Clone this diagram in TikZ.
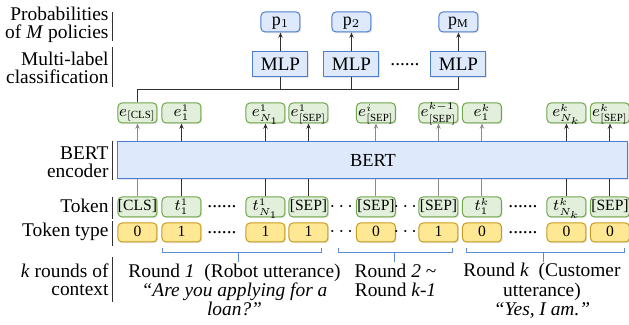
\documentclass[tikz,border=0pt]{standalone}
\usepackage{amsmath}
\usepackage{fontspec}
\setmainfont{Liberation Serif}
\usetikzlibrary{arrows.meta,shadows}

\definecolor{embfill}{HTML}{E2EFDA}
\definecolor{embdraw}{HTML}{6EA64A}
\definecolor{typfill}{HTML}{FFE894}
\definecolor{typdraw}{HTML}{C59C1E}
\definecolor{encfill}{HTML}{DEEAFC}
\definecolor{encdraw}{HTML}{4D7DD0}
\definecolor{grpdraw}{HTML}{5B8BD8}
\definecolor{lightline}{HTML}{8A8A8A}
\definecolor{darkline}{HTML}{303030}

\begin{document}
\begin{tikzpicture}[x=0.5pt, y=-0.5pt, line width=0.5pt,
        every node/.append style={inner sep=0pt},
        boxshadow/.style={drop shadow={shadow xshift=0.6pt, shadow yshift=-0.6pt, opacity=0.2}},
        tokbox/.style={draw=embdraw, fill=embfill, rounded corners=2pt, minimum width=19.5pt, minimum height=10pt,
            text height=5.6pt, text depth=1.6pt, font=\fontsize{7.8}{7.8}\selectfont, boxshadow},
        typbox/.style={tokbox, draw=typdraw, fill=typfill, minimum height=9.5pt},
        probbox/.style={tokbox, draw=encdraw, fill=encfill, font=\fontsize{9}{9}\selectfont},
        mlpbox/.style={draw=encdraw, fill=encfill, minimum width=27.5pt, minimum height=12.5pt,
            font=\fontsize{9.5}{9.5}\selectfont, boxshadow},
        lbl/.style={anchor=east, align=right, font=\fontsize{9.7}{9}\selectfont},
        txt/.style={align=center, font=\fontsize{9.7}{9.65}\selectfont},
        bar/.style={draw=darkline},
        grp/.style={draw=grpdraw},
        ptr/.style={-{Stealth[length=2.6pt, width=2.2pt]}}]
        \useasboundingbox (0,0) rectangle (629,325);

        % row labels on the left
        \node [lbl] (lprob) at (109,25) {Probabilities\\of \textit{M} policies};
        \node [lbl] (lmlp) at (109,67.5) {Multi-label\\classification};
        \node [lbl] (lbert) at (109,162.5) {BERT\\encoder};
        \node [lbl] (ltok) at (109,205.5) {Token};
        \node [lbl] (ltype) at (109,232.3) {Token type};
        \node [lbl] (lctx) at (109,280) {\textit{k} rounds of\\context};
        \draw [bar] (113,12) -- (113,41);
        \draw [bar] (113,47) -- (113,87);
        \draw [bar] (113,141) -- (113,180);
        \draw [bar] (113,197) -- (113,219);
        \draw [bar] (113,221) -- (113,246);
        \draw [bar] (113,257) -- (113,302);

        % policy heads
        \node [probbox] (p1) at (280.5,22) {$\mathrm{p}_1$};
        \node [probbox] (p2) at (351.5,22) {$\mathrm{p}_2$};
        \node [probbox] (pM) at (458.5,22) {$\mathrm{p}_\mathrm{M}$};
        \node [mlpbox] (mlp1) at (280.5,64.5) {MLP};
        \node [mlpbox] (mlp2) at (351.5,64.5) {MLP};
        \node [mlpbox] (mlpM) at (458.5,64.5) {MLP};
        \node [font=\fontsize{9.7}{9.7}\selectfont] (mdots) at (405,65) {......};

        % encoder
        \node [mlpbox, minimum width=255pt, minimum height=18.5pt, font=\fontsize{9.2}{9.2}\selectfont] (bert) at (373,160.5) {BERT};

        % output embeddings
        \node [tokbox] (ecls) at (137.5,113) {$e_{\mathrm{[CLS]}}$};
        \node [tokbox] (e1) at (181.5,113) {$e_1^1$};
        \node [tokbox] (en1) at (265.5,113) {$e_{N_1}^1$};
        \node [tokbox] (esep1) at (308.5,113) {$e_{\mathrm{[SEP]}}^1$};
        \node [tokbox] (esepi) at (376,113) {$e_{\mathrm{[SEP]}}^i$};
        \node [tokbox] (esepk1) at (438.5,113) {$e_{\mathrm{[SEP]}}^{k-1}$};
        \node [tokbox] (ek) at (482,113) {$e_1^k$};
        \node [tokbox] (enk) at (566.5,113) {$e_{N_k}^k$};
        \node [tokbox] (esepk) at (610,113) {$e_{\mathrm{[SEP]}}^k$};

        % input tokens
        \node [tokbox] (cls) at (137.5,207) {[CLS]};
        \node [tokbox] (t1) at (181.5,207) {$t_1^1$};
        \node [tokbox] (tn1) at (265.5,207) {$t_{N_1}^1$};
        \node [tokbox] (sep1) at (308.5,207) {[SEP]};
        \node [tokbox] (sepi) at (376,207) {[SEP]};
        \node [tokbox] (sepk1) at (438.5,207) {[SEP]};
        \node [tokbox] (tk) at (482,207) {$t_1^k$};
        \node [tokbox] (tnk) at (566.5,207) {$t_{N_k}^k$};
        \node [tokbox] (sepk) at (610,207) {[SEP]};
        \node [font=\fontsize{9.7}{9.7}\selectfont] (tdots1) at (222,207) {......};
        \node (tdots2) at (343,207) {$\cdots$};
        \node (tdots3) at (407,207) {$\cdots$};
        \node [font=\fontsize{9.7}{9.7}\selectfont] (tdots4) at (523,207) {......};

        % token types
        \node [typbox] (ycls) at (137.5,232.5) {0};
        \node [typbox] (y1) at (181.5,232.5) {1};
        \node [typbox] (yn1) at (265.5,232.5) {1};
        \node [typbox] (ysep1) at (308.5,232.5) {1};
        \node [typbox] (ysepi) at (376,232.5) {0};
        \node [typbox] (ysepk1) at (438.5,232.5) {1};
        \node [typbox] (yk) at (482,232.5) {0};
        \node [typbox] (ynk) at (566.5,232.5) {0};
        \node [typbox] (ysepk) at (610,232.5) {0};
        \node [font=\fontsize{9.7}{9.7}\selectfont] (ydots1) at (222,232.5) {......};
        \node (ydots2) at (343,232.5) {$\cdots$};
        \node (ydots3) at (407,232.5) {$\cdots$};
        \node [font=\fontsize{9.7}{9.7}\selectfont] (ydots4) at (523,232.5) {......};

        % tokens into BERT, embeddings out
        \draw [lightline] (cls) -- (cls |- bert.south);
        \draw [darkline] (t1) -- (t1 |- bert.south);
        \draw [darkline] (tn1) -- (tn1 |- bert.south);
        \draw [darkline] (sep1) -- (sep1 |- bert.south);
        \draw [lightline] (sepi) -- (sepi |- bert.south);
        \draw [lightline] (sepk1) -- (sepk1 |- bert.south);
        \draw [lightline] (tk) -- (tk |- bert.south);
        \draw [darkline] (tnk) -- (tnk |- bert.south);
        \draw [darkline] (sepk) -- (sepk |- bert.south);
        \draw [ptr, lightline] (ecls |- bert.north) -- (ecls);
        \draw [ptr, darkline] (e1 |- bert.north) -- (e1);
        \draw [ptr, darkline] (en1 |- bert.north) -- (en1);
        \draw [ptr, darkline] (esep1 |- bert.north) -- (esep1);
        \draw [ptr, lightline] (esepi |- bert.north) -- (esepi);
        \draw [ptr, lightline] (esepk1 |- bert.north) -- (esepk1);
        \draw [ptr, lightline] (ek |- bert.north) -- (ek);
        \draw [ptr, darkline] (enk |- bert.north) -- (enk);
        \draw [ptr, darkline] (esepk |- bert.north) -- (esepk);

        % [CLS] embedding to the classifiers
        \coordinate (bus) at (137.5,90);
        \draw [darkline] (ecls) -- (bus) -| (mlpM);
        \draw [darkline] (mlp1) -- (mlp1 |- bus);
        \draw [darkline] (mlp2) -- (mlp2 |- bus);
        \draw [ptr, darkline] (mlp1) -- (p1);
        \draw [ptr, darkline] (mlp2) -- (p2);
        \draw [ptr, darkline] (mlpM) -- (pM);

        % rounds of context
        \draw [grp] (163,248) -- (163,253) -- (322,253) -- (322,248);
        \draw [grp] (239,253) -- (239,262);
        \draw [grp] (339,248) -- (339,253) -- (453,253) -- (453,248);
        \draw [grp] (395,253) -- (395,262);
        \draw [grp] (467,248) -- (467,253) -- (625,253) -- (625,248);
        \draw [grp] (544,253) -- (544,262);
        \node [txt] (r1) at (234.5,290) {Round \textit{1}~~(Robot utterance)\\\textit{“Are you applying for a}\\\textit{loan?”}};
        \node [txt] (r2) at (395.5,280.5) {Round \textit{2} \textasciitilde\\Round \textit{k-1}};
        \node [txt] (rk) at (542,291) {Round \textit{k}~~(Customer\\utterance)\\\textit{“Yes, I am.”}};
    \end{tikzpicture}
\end{document}
